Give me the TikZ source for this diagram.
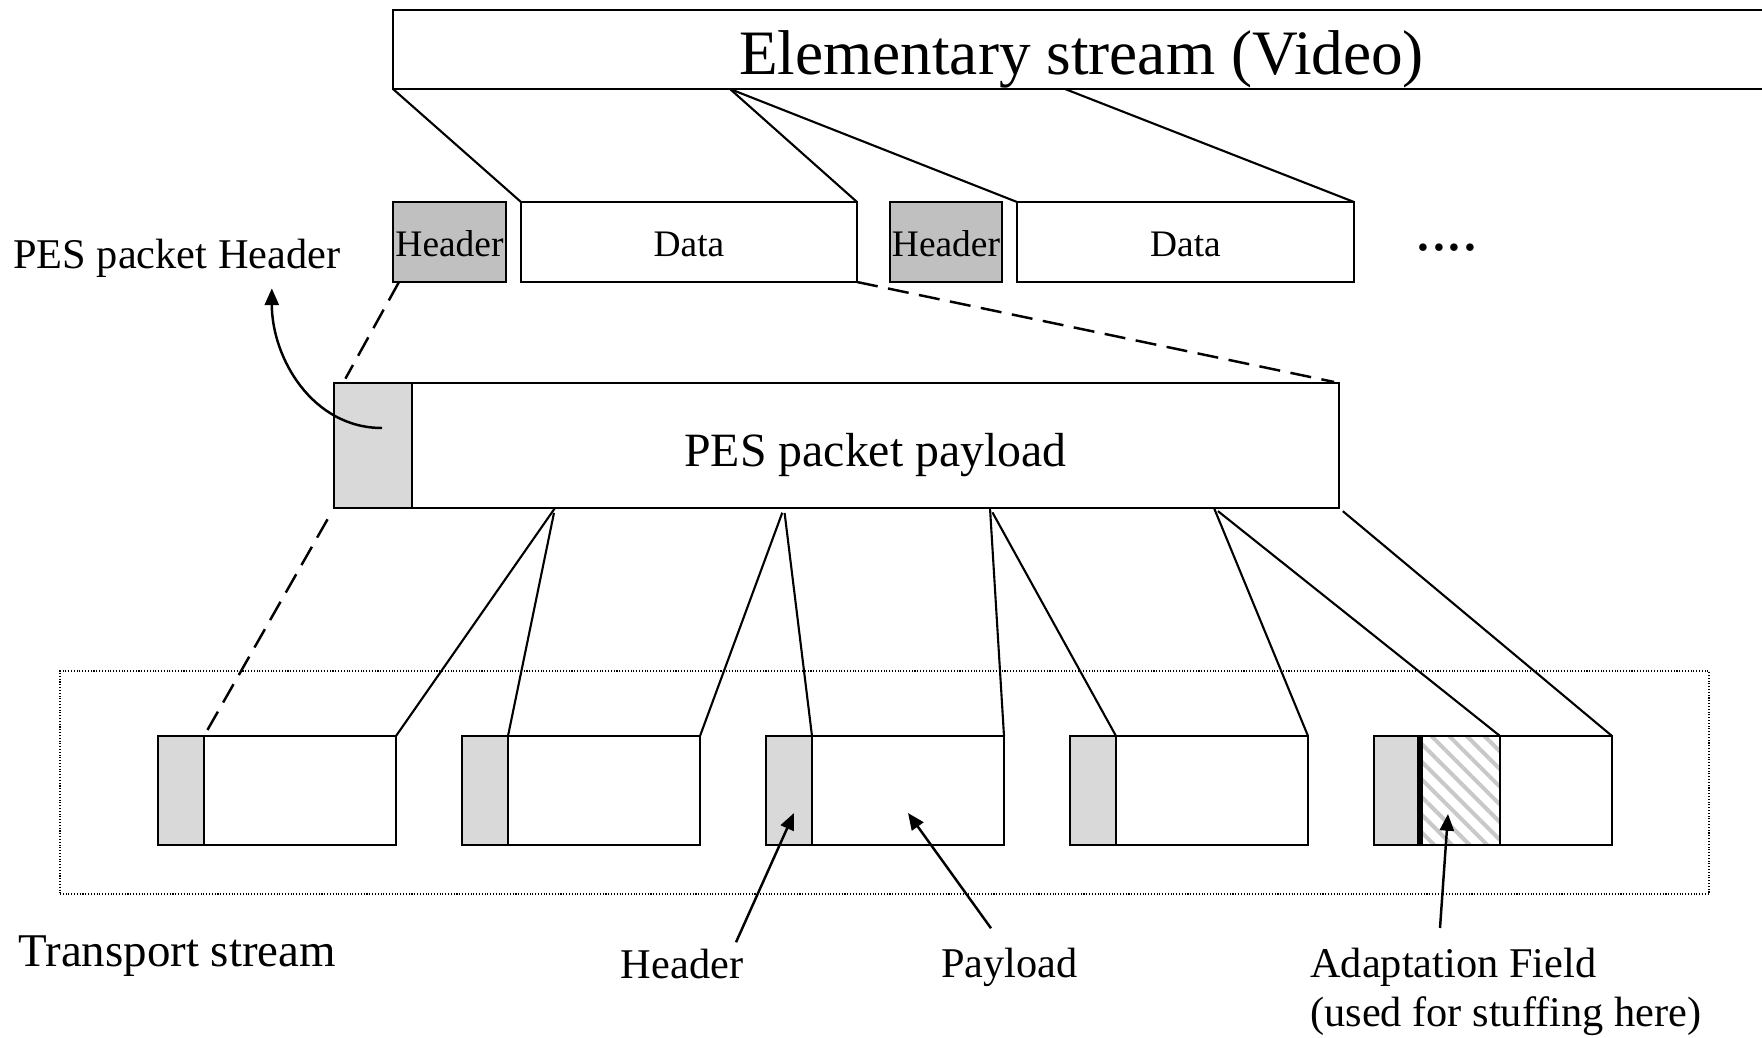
\documentclass[tikz,border=0pt]{standalone}
\usepackage{fontspec}
\setmainfont{Liberation Serif}
\usetikzlibrary{positioning,arrows.meta,patterns.meta}

\definecolor{hdrgray}{HTML}{C0C0C0}
\definecolor{pktgray}{HTML}{D9D9D9}
\definecolor{hatchgray}{HTML}{C8C8C8}

\newcommand{\esfont}{\fontsize{36}{40}\selectfont}
\newcommand{\cellfont}{\fontsize{21.3}{25}\selectfont}
\newcommand{\pesfont}{\fontsize{27.2}{32}\selectfont}
\newcommand{\lblfont}{\fontsize{24.1}{27.9}\selectfont}
\newcommand{\tsfont}{\fontsize{26.7}{31}\selectfont}

\tikzset{>={Triangle[length=9.5pt,width=8pt]}}
\tikzset{
  box/.style={draw, line width=1.4pt, inner sep=0pt, outer sep=0pt},
  cell/.style={box, minimum height=1.6cm, font=\cellfont, text height=17pt, text depth=0pt},
  pkthdr/.style={box, fill=pktgray, minimum width=0.92cm, minimum height=2.18cm},
  pktpay/.style={box, minimum width=3.84cm, minimum height=2.18cm},
  lbl/.style={inner sep=0pt, font=\lblfont},
  link/.style={line width=1.2pt},
  cut/.style={line width=1.4pt, dash pattern=on 12pt off 6pt},
  pointer/.style={->, line width=1.4pt}
}

\begin{document}
\begin{tikzpicture}
      \useasboundingbox (0,0) rectangle (35.24,20.74);

      \node[box, minimum width=27.54cm, minimum height=1.58cm, font=\esfont, text height=29pt, text depth=0pt] (es) at (21.63,19.75) {Elementary stream (Video)};

      \node[cell, fill=hdrgray, minimum width=2.26cm] (hdrA) at (8.99,15.9)  {Header};
      \node[cell, minimum width=6.72cm]               (datA) at (13.78,15.9) {Data};
      \node[cell, fill=hdrgray, minimum width=2.24cm] (hdrB) at (18.92,15.9) {Header};
      \node[cell, minimum width=6.74cm]               (datB) at (23.71,15.9) {Data};
      \node[anchor=base west, inner sep=0pt, font=\esfont] (dots) at (28.3,15.72) {....};

      \node[box, fill=pktgray, minimum width=1.56cm, minimum height=2.5cm] (pesHdr) at (7.46,11.83) {};
      \node[box, minimum width=18.54cm, minimum height=2.5cm, font=\pesfont, text height=23.7pt, text depth=0pt] (pes) at (17.51,11.83) {PES packet payload};

      \node[draw, densely dotted, line width=0.6pt, minimum width=32.98cm, minimum height=4.46cm] (tsFrame) at (17.69,5.09) {};

      \node[pkthdr] (tsHdrA) at (3.62,4.93)  {};
      \node[pktpay] (tsPayA) at (6.0,4.93)   {};
      \node[pkthdr] (tsHdrB) at (9.70,4.93)  {};
      \node[pktpay] (tsPayB) at (12.08,4.93) {};
      \node[pkthdr] (tsHdrC) at (15.78,4.93) {};
      \node[pktpay] (tsPayC) at (18.16,4.93) {};
      \node[pkthdr] (tsHdrD) at (21.86,4.93) {};
      \node[pktpay] (tsPayD) at (24.24,4.93) {};
      \node[pkthdr] (tsHdrE) at (27.94,4.93) {};
      \node[box, minimum width=1.6cm, minimum height=2.18cm, pattern={Lines[angle=-45,distance=0.25cm,line width=0.08cm]}, pattern color=hatchgray] (tsAdE) at (29.2,4.93) {};
      \node[pktpay, minimum width=2.24cm] (tsPayE) at (31.12,4.93) {};
      \draw[line width=3pt] (tsAdE.north west) -- (tsAdE.south west);

      \node[lbl, anchor=base west] (pesLbl) at (0.26,15.36) {PES packet Header};
      \node[lbl, anchor=base west, font=\tsfont] (tsLbl) at (0.36,1.42) {Transport stream};
      \node[lbl, anchor=base] (hdrLbl) at (13.64,1.18) {Header};
      \node[lbl, anchor=base] (payLbl) at (20.19,1.2)  {Payload};
      \node[lbl, anchor=north west, align=left] (adLbl) at (26.2,1.78) {Adaptation Field\\(used for stuffing here)};

      % elementary stream -> PES packets
      \coordinate (esCutA) at (14.6,18.96);
      \coordinate (esCutB) at (21.3,18.96);
      \draw[link] (es.south west) -- (datA.north west);
      \draw[link] (esCutA)        -- (datA.north east);
      \draw[link] (esCutA)        -- (datB.north west);
      \draw[link] (esCutB)        -- (datB.north east);

      \draw[cut, shorten >=0.1cm] ([xshift=0.12cm]hdrA.south west) -- ([xshift=0.18cm]pesHdr.north west);
      \draw[cut, shorten >=0.1cm] (datA.south east) -- (pes.north east);
      \draw[cut, shorten <=0.26cm] (pesHdr.south west) -- (tsHdrA.north east);

      % PES packet -> transport packets
      \coordinate (cutA) at (11.1,10.58);
      \coordinate (cutB) at (15.68,10.58);
      \coordinate (cutC) at (19.8,10.58);
      \coordinate (cutD) at (24.28,10.58);
      \draw[link]                    (cutA) -- (tsPayA.north east);
      \draw[link, shorten <=0.1cm]   (cutA) -- (tsPayB.north west);
      \draw[link, shorten <=0.1cm]   (cutB) -- (tsPayB.north east);
      \draw[link, shorten <=0.1cm]   (cutB) -- (tsPayC.north west);
      \draw[link]                    (cutC) -- (tsPayC.north east);
      \draw[link, shorten <=0.1cm]   (cutC) -- (tsPayD.north west);
      \draw[link]                    (cutD) -- (tsPayD.north east);
      \draw[link, shorten <=0.1cm]   (cutD) -- (tsPayE.north west);
      \draw[link, shorten <=0.1cm]   (pes.south east) -- (tsPayE.north east);

      \draw[pointer] ([xshift=0.18cm,yshift=0.35cm]pesHdr.center) to[out=180,in=-90] ([xshift=1.9cm,yshift=-0.2cm]pesLbl.south);
      \draw[pointer] ([xshift=1.08cm,yshift=0.12cm]hdrLbl.north) -- ([xshift=0.1cm,yshift=-0.45cm]tsHdrC.center);
      \draw[pointer] ([xshift=-0.37cm,yshift=0.38cm]payLbl.north) -- ([yshift=-0.45cm]tsPayC.center);
      \draw[pointer] ([xshift=2.6cm,yshift=0.4cm]adLbl.north west) -- ([xshift=-0.24cm,yshift=-0.47cm]tsAdE.center);
\end{tikzpicture}
\end{document}
